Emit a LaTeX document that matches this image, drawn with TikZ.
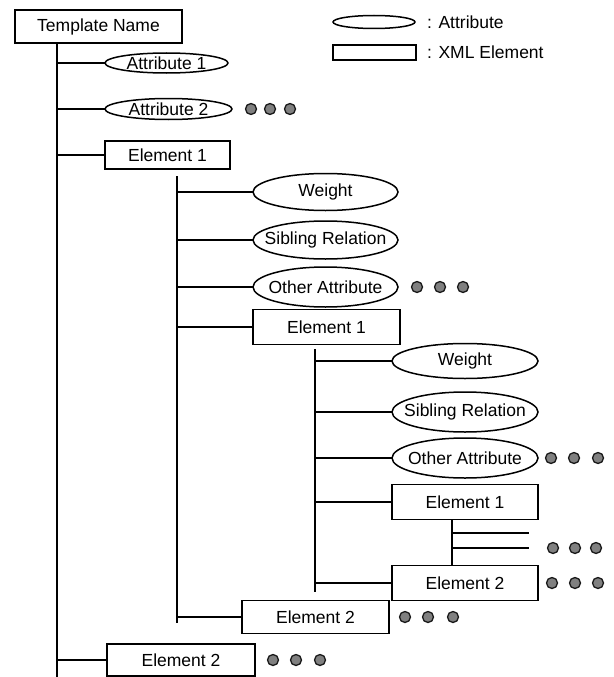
\documentclass[tikz,border=0pt]{standalone}
\usepackage{fontspec}
\setmainfont{Liberation Sans}
\usetikzlibrary{shapes.geometric}
\newcommand\zw[1]{\makebox[0pt][c]{#1}}
\tikzset{
  ln/.style={line width=1.6pt, line cap=rect},
  attr/.style={ellipse, draw, line width=1.5pt, inner sep=0pt, minimum width=145pt, minimum height=37pt},
  elem/.style={rectangle, draw, line width=1.5pt, inner sep=0pt, minimum width=146pt, minimum height=35pt},
  dot/.style={circle, draw=black!90, fill=black!50, line width=1.3pt, inner sep=0pt, minimum size=11pt},
  lbl/.style={anchor=west, inner sep=0pt}
}
\begin{document}
\begin{tikzpicture}[x=1pt,y=-1pt, every node/.style={font=\fontsize{17.5}{19}\selectfont}]
\useasboundingbox (0,0) rectangle (613,677);

% legend
\node[attr, minimum width=82pt, minimum height=13pt] (legA) at (374,22) {};
\node[lbl] (legAt) at (427,22) {: Attribute};
\node[elem, minimum width=83pt, minimum height=15pt] (legE) at (374.5,52.5) {};
\node[lbl] (legEt) at (427,52) {: XML Element};

% root
\node[elem, minimum width=167pt, minimum height=33pt] (root) at (98.5,26.5) {Template Name};
\coordinate (v1top) at (57,43);
\coordinate (v1bot) at (57,677);
\draw[ln] (v1top) -- (v1bot);

% level 1
\node[attr, minimum width=123pt, minimum height=20pt] (a1) at (166.5,63) {\zw{Attribute 1}};
\node[attr, minimum width=127pt, minimum height=21pt] (a2) at (168.5,109) {\zw{Attribute 2}};
\node[elem, minimum width=125pt, minimum height=28pt] (e1) at (167.5,155) {Element 1};
\node[elem, minimum width=148pt, minimum height=32pt] (e2) at (181,660) {Element 2};
\foreach \n in {a1,a2,e1,e2} \draw[ln] (v1top |- \n.west) -- (\n.west);
\node[dot] (da2a) at (251,109) {};
\node[dot] (da2b) at (270,109) {};
\node[dot] (da2c) at (290,109) {};
\node[dot] (de2a) at (273,660) {};
\node[dot] (de2b) at (296,660) {};
\node[dot] (de2c) at (320,660) {};

% level 2
\coordinate (v2top) at (177,177);
\coordinate (v2bot) at (177,622);
\draw[ln] (v2top) -- (v2bot);
\node[attr] (w2) at (325.5,192) {\zw{Weight}};
\node[attr, minimum height=38pt] (s2) at (325.5,240) {\zw{Sibling Relation}};
\node[attr, minimum height=40pt] (o2) at (325.5,287) {\zw{Other Attribute}};
\node[elem, minimum width=147pt] (f2) at (326.5,327) {Element 1};
\node[elem, minimum width=147pt, minimum height=33pt] (g2) at (315.5,617) {Element 2};
\foreach \n in {w2,s2,o2,f2,g2} \draw[ln] (v2top |- \n.west) -- (\n.west);
\node[dot] (do2a) at (417,287) {};
\node[dot] (do2b) at (440,287) {};
\node[dot] (do2c) at (463,287) {};
\node[dot] (dg2a) at (405,617) {};
\node[dot] (dg2b) at (428,617) {};
\node[dot] (dg2c) at (453,617) {};

% level 3
\coordinate (v3top) at (315,350);
\coordinate (v3bot) at (315,591);
\draw[ln] (v3top) -- (v3bot);
\node[attr, minimum width=146pt, minimum height=35pt] (w3) at (465,361) {\zw{Weight}};
\node[attr, minimum width=146pt, minimum height=40pt] (s3) at (465,412) {\zw{Sibling Relation}};
\node[attr, minimum width=146pt, minimum height=40pt] (o3) at (465,458) {\zw{Other Attribute}};
\node[elem] (f3) at (465,502) {Element 1};
\node[elem] (g3) at (465,583) {Element 2};
\foreach \n in {w3,s3,o3,f3,g3} \draw[ln] (v3top |- \n.west) -- (\n.west);
\node[dot] (do3a) at (551,458) {};
\node[dot] (do3b) at (574,458) {};
\node[dot] (do3c) at (598,458) {};
\node[dot] (dg3a) at (552,583) {};
\node[dot] (dg3b) at (575,583) {};
\node[dot] (dg3c) at (598,583) {};

% level 4
\coordinate (v4top) at (452,520);
\coordinate (v4bot) at (452,564);
\draw[ln] (v4top) -- (v4bot);
\coordinate (h4a) at (528,533);
\coordinate (h4b) at (528,548);
\draw[ln] (v4top |- h4a) -- (h4a);
\draw[ln] (v4top |- h4b) -- (h4b);
\node[dot] (d4a) at (553,548) {};
\node[dot] (d4b) at (575,548) {};
\node[dot] (d4c) at (596,548) {};
\end{tikzpicture}
\end{document}
